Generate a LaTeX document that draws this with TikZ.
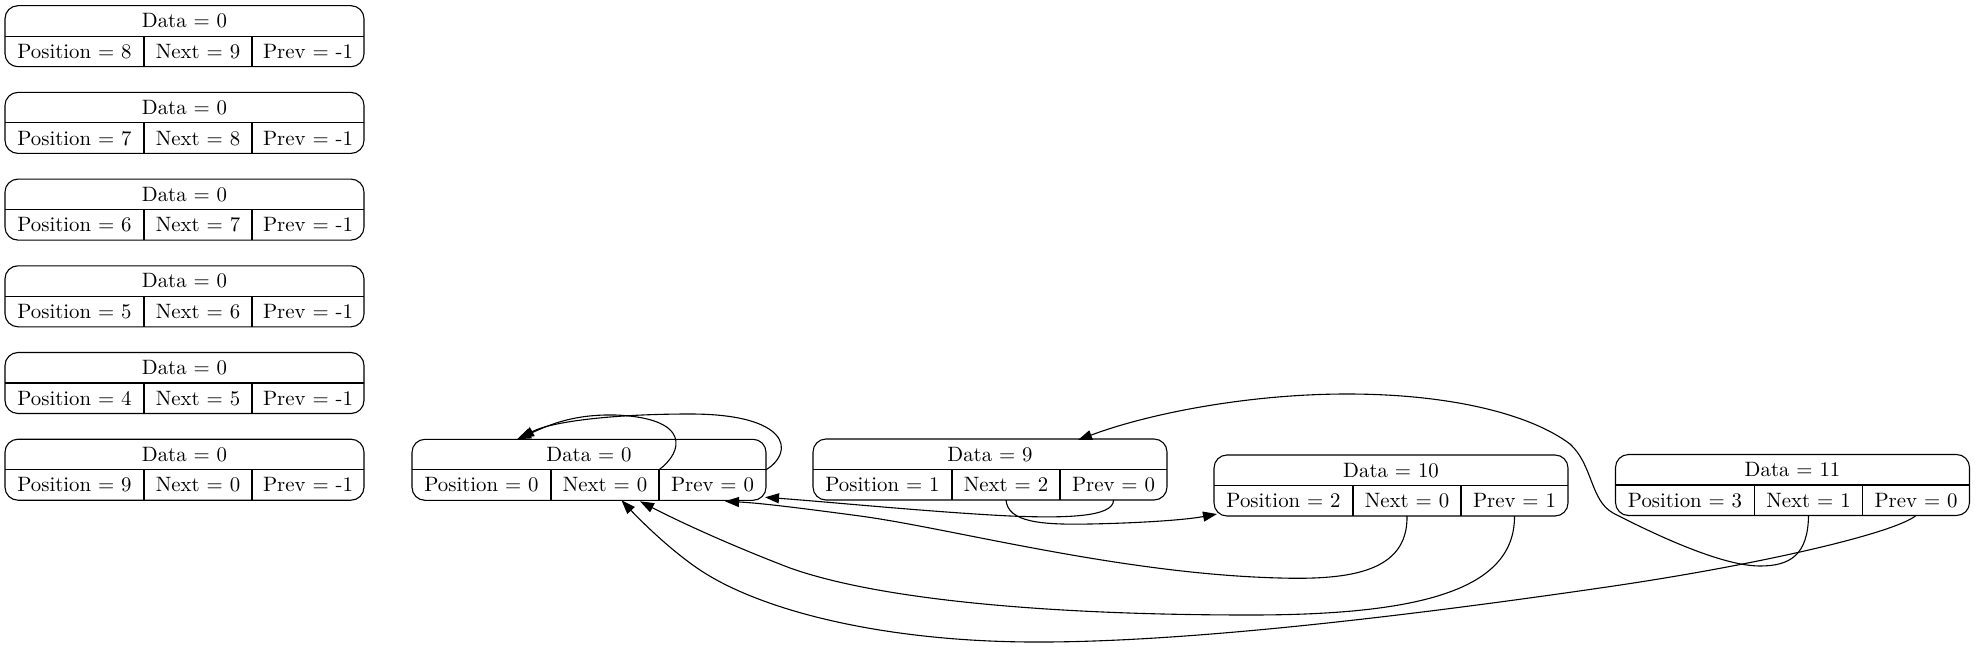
\documentclass[tikz,border=0pt]{standalone}
\usetikzlibrary{arrows.meta,calc}
\begin{document}
\begin{tikzpicture}[x=0.5pt,y=-0.5pt]
\tikzset{
 cell/.style={inner sep=0pt, outer sep=0pt, minimum height=15.25pt, font=\fontsize{10.4}{12}\selectfont},
 recline/.style={line width=0.55pt},
 edge/.style={line width=0.55pt, -{Triangle[length=7pt,width=5pt]}},
}
\newcommand{\recrd}[8]{%
 \node[cell, minimum width={#4*0.5pt}, anchor=north west] (#1-data) at (#2,#3) {#5};
 \node[cell, minimum width=69.5pt, anchor=north west] (#1-pos) at (#2,#3+30.5) {#6};
 \node[cell, minimum width=54pt, anchor=north west] (#1-next) at (#1-pos.north east) {#7};
 \node[cell, minimum width={(#4-247)*0.5pt}, anchor=north west] (#1-prev) at (#1-next.north east) {#8};
 \draw[recline, rounded corners=6.5pt] (#1-data.north west) rectangle (#1-prev.south east);
 \draw[recline] (#1-data.south west) -- (#1-data.south east);
 \draw[recline] (#1-pos.north east) -- (#1-pos.south east);
 \draw[recline] (#1-next.north east) -- (#1-next.south east);
}
\useasboundingbox (0,0) rectangle (1975,647);

\recrd{p8}{5}{5.7}{359}{Data = 0}{Position = 8}{Next = 9}{Prev = -1}
\recrd{p7}{5}{92.4}{359}{Data = 0}{Position = 7}{Next = 8}{Prev = -1}
\recrd{p6}{5}{179.1}{359}{Data = 0}{Position = 6}{Next = 7}{Prev = -1}
\recrd{p5}{5}{265.8}{359}{Data = 0}{Position = 5}{Next = 6}{Prev = -1}
\recrd{p4}{5}{352.5}{359}{Data = 0}{Position = 4}{Next = 5}{Prev = -1}
\recrd{p9}{5}{439.2}{359}{Data = 0}{Position = 9}{Next = 0}{Prev = -1}

\recrd{p0}{412}{439.3}{354}{Data = 0}{Position = 0}{Next = 0}{Prev = 0}
\recrd{p1}{813}{439}{354}{Data = 9}{Position = 1}{Next = 2}{Prev = 0}
\recrd{p2}{1214}{455}{354}{Data = 10}{Position = 2}{Next = 0}{Prev = 1}
\recrd{p3}{1615.5}{454.5}{354}{Data = 11}{Position = 3}{Next = 1}{Prev = 0}

\coordinate (t1) at ($(p0-data.north west)+(105,0)$);
\coordinate (t2) at ($(p0-data.north west)+(108,-1)$);
\coordinate (t3) at ($(p0-prev.south east)+(-1,-3)$);
\coordinate (t4) at ($(p2-pos.south west)+(3,-2)$);
\coordinate (t5) at ($(p0-prev.south)+(12.5,1)$);
\coordinate (t6) at ($(p0-next.south)+(35,1)$);
\coordinate (t7) at ($(p0-next.south)+(16.5,0)$);
\coordinate (t8) at ($(p1-data.north east)+(-89,1)$);

% self loops of position 0
\draw[edge] (p0-next.north east) .. controls (683,452) and (692,418) .. (615,415)
  .. controls (570,414) and (545,427) .. (t1);
\draw[edge] (p0-prev.north east) .. controls (795,452) and (790,414) .. (690,414)
  .. controls (610,414) and (550,422) .. (t2);
% position 1
\draw[edge] (p1-prev.south) .. controls (1114,518) and (1060,518) .. (1010,516)
  .. controls (930,512) and (830,502) .. (t3);
\draw[edge] (p1-next.south) .. controls (1008,522) and (1040,525) .. (1090,524)
  .. controls (1140,523) and (1185,520) .. (t4);
% position 2
\draw[edge] (p2-next.south) .. controls (1408,572) and (1350,580) .. (1280,578)
  .. controls (1120,574) and (950,528) .. (860,516)
  .. controls (800,508) and (760,503) .. (t5);
\draw[edge] (p2-prev.south) .. controls (1515,590) and (1420,615) .. (1250,615)
  .. controls (1050,615) and (880,600) .. (790,568)
  .. controls (730,545) and (680,522) .. (t6);
% position 3
\draw[edge] (p3-prev.south) .. controls (1895,533) and (1760,565) .. (1600,588)
  .. controls (1400,617) and (1180,643) .. (1030,642)
  .. controls (880,641) and (760,610) .. (700,570)
  .. controls (670,550) and (640,520) .. (t7);
\draw[edge] (p3-next.south) .. controls (1808,555) and (1790,566) .. (1760,566)
  .. controls (1720,566) and (1650,532) .. (1613,513)
  .. controls (1590,500) and (1593,465) .. (1570,444)
  .. controls (1530,414) and (1450,394) .. (1347,394)
  .. controls (1250,394) and (1150,413) .. (t8);
\end{tikzpicture}
\end{document}
